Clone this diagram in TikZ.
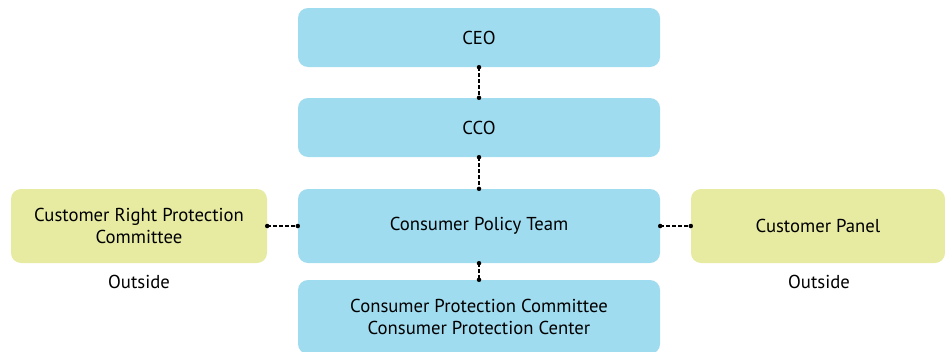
\documentclass[tikz,border=0pt]{standalone}
\usepackage{fontspec}
\setmainfont{PT Sans}
\definecolor{boxblue}{HTML}{A0DCF0}
\definecolor{boxgreen}{HTML}{E7EBA2}
\begin{document}
\begin{tikzpicture}[x=1pt,y=-1pt,
  base/.style={rounded corners=10pt, inner sep=0pt, align=center, font=\fontsize{18.7}{22}\selectfont},
  bluebox/.style={base, fill=boxblue, minimum width=362pt},
  greenbox/.style={base, fill=boxgreen},
  link/.style={dashed, dash pattern=on 3.5pt off 2.5pt, line width=1.1pt},
  dotend/.style={fill=black, circle, inner sep=0pt, minimum size=4.5pt},
  lbl/.style={font=\fontsize{18.7}{22}\selectfont, inner sep=0pt}
]
\useasboundingbox (0,0) rectangle (945,351);
\node[bluebox, minimum height=59pt] (ceo) at (479,37.5) {CEO};
\node[bluebox, minimum height=59pt] (cco) at (479,127.5) {CCO};
\node[bluebox, minimum height=74pt] (cpt) at (479,226) {Consumer Policy Team};
\node[bluebox, minimum height=74pt] (cpc) at (479,317) {Consumer Protection Committee\\Consumer Protection Center};
\node[greenbox, minimum width=256pt, minimum height=74pt] (crpc) at (139,226) {Customer Right Protection\\Committee};
\node[greenbox, minimum width=254pt, minimum height=74pt] (panel) at (818,226) {Customer Panel};
\node[lbl] (out1) at (139,282) {Outside};
\node[lbl] (out2) at (819,282) {Outside};
\draw[link] (ceo.south) -- (cco.north);
\draw[link] (cco.south) -- (cpt.north);
\draw[link] (cpt.south) -- (cpc.north);
\draw[link] (crpc.east) -- (cpt.west);
\draw[link] (cpt.east) -- (panel.west);
\foreach \p in {ceo.south,cco.north,cco.south,cpt.north,cpt.south,cpc.north,crpc.east,cpt.west,cpt.east,panel.west}
  \node[dotend] at (\p) {};
\end{tikzpicture}
\end{document}
